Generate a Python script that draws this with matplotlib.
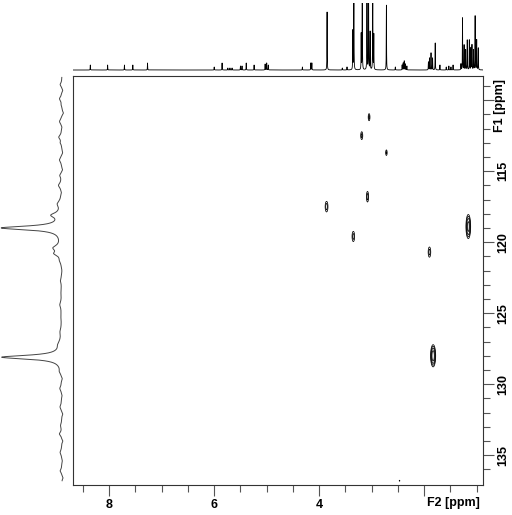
import numpy as np
import matplotlib.pyplot as plt
import matplotlib.transforms as mtransforms

plt.rcParams['font.family'] = ['Liberation Sans', 'DejaVu Sans']

# F2 axis (1H) and F1 axis (13C) window, ppm
f2_range = (8.69, 0.88)
f1_range = (108.3, 137.1)

# 1D 1H spectrum on top: peak position (ppm) and height (arb., 67 = top of panel)
h_ppm = [8.36, 8.03, 7.71, 7.55, 7.27, 6.00, 5.85, 5.74, 5.70, 5.66, 5.50, 5.47,
         5.39, 5.24, 5.03, 5.00, 4.97, 4.32, 4.16, 4.14, 3.85, 3.56, 3.47,
         3.36, 3.34, 3.20, 3.18, 3.09, 3.06, 3.03, 2.98, 2.96, 2.72, 2.55,
         2.42, 2.40, 2.38, 2.36, 2.33, 1.92, 1.90, 1.87, 1.84, 1.79, 1.70,
         1.58, 1.53, 1.49, 1.45, 1.30, 1.27, 1.24, 1.21, 1.18, 1.14, 1.11,
         1.09, 1.06, 1.03, 1.00, 0.97]
h_int = [5, 5, 5, 5, 7, 3, 7, 2, 2, 2, 4, 4,
         7, 5, 6, 7, 5, 3, 7, 7, 58, 2, 3,
         39, 100, 36, 100, 100, 100, 38, 100, 35, 65, 3,
         5, 7, 9, 6, 4, 8, 12, 17, 12, 27, 5,
         3, 4, 3, 5, 6, 52, 25, 20, 30, 30, 22,
         25, 20, 54, 30, 22]

# 1D 13C projection on the left: position (ppm), relative height, half-width
c_ppm = [108.9, 109.3, 109.9, 110.3, 110.9, 111.5, 111.9, 112.6, 113.0, 113.7,
         114.2, 114.9, 115.3, 116.0, 116.5, 117.3, 118.1, 119.0, 120.4, 120.8,
         121.3, 122.0, 122.7, 123.5, 124.4, 125.2, 126.3, 127.2, 128.1, 129.1,
         129.6, 130.3, 130.8, 131.6, 132.1, 132.9, 133.5, 134.0, 134.8, 135.4,
         136.1, 136.6]
c_int = [0.03, -0.02, 0.04, 0.01, -0.03, 0.04, -0.01, 0.05, 0.02, -0.02,
         0.04, -0.02, 0.03, 0.05, -0.01, 0.06, 0.15, 1.00, 0.12, 0.10,
         0.02, -0.01, 0.02, 0.01, 0.03, 0.01, 0.02, 0.04, 1.00, 0.02,
         -0.02, 0.03, -0.01, 0.03, -0.02, 0.02, 0.04, -0.02, 0.03, -0.01,
         0.03, -0.02]
c_wid = [0.15, 0.12, 0.18, 0.1, 0.15, 0.2, 0.1, 0.18, 0.12, 0.15,
         0.2, 0.12, 0.15, 0.2, 0.1, 0.25, 0.2, 0.16, 0.22, 0.18,
         0.2, 0.25, 0.2, 0.3, 0.25, 0.3, 0.25, 0.3, 0.16, 0.15,
         0.12, 0.18, 0.1, 0.2, 0.12, 0.18, 0.15, 0.1, 0.2, 0.12,
         0.15, 0.1]

# 2D cross peaks: F2, F1, sigma F2, sigma F1, amplitude
xp_f2 = [3.05, 3.19, 2.72, 3.08, 3.86, 1.16, 3.35, 1.90, 1.83, 2.47]
xp_f1 = [111.2, 112.5, 113.7, 116.8, 117.5, 118.9, 119.6, 120.7, 128.0, 136.8]
xp_s2 = [0.012, 0.014, 0.011, 0.014, 0.018, 0.02, 0.017, 0.017, 0.021, 0.008]
xp_s1 = [0.18, 0.2, 0.15, 0.25, 0.25, 0.38, 0.25, 0.25, 0.34, 0.05]
xp_amp = [2.6, 2.6, 2.3, 3.0, 3.0, 12.0, 2.8, 2.8, 14.0, 1.3]


def lorentz(x, pos, hw):
    return 1.0 / (1.0 + ((x - pos) / hw) ** 2)


fig = plt.figure(figsize=(5.12, 5.15), dpi=100)
W, H = 512.0, 515.0

ax = fig.add_axes([73 / W, 30 / H, 410 / W, 409 / H])
ax_top = fig.add_axes([73 / W, (H - 72) / H, 410 / W, 69 / H])
ax_left = fig.add_axes([0, 30 / H, 70 / W, 409 / H])

# --- 2D contour map
g2 = np.linspace(f2_range[1], f2_range[0], 2400)
g1 = np.linspace(f1_range[0], f1_range[1], 900)
X, Y = np.meshgrid(g2, g1)
Z = np.zeros_like(X)
for p2, p1, s2, s1, a in zip(xp_f2, xp_f1, xp_s2, xp_s1, xp_amp):
    Z += a * np.exp(-0.5 * ((X - p2) / s2) ** 2 - 0.5 * ((Y - p1) / s1) ** 2)
ax.contour(X, Y, Z, levels=[1, 2, 4, 8], colors='black', linewidths=0.55)

ax.set_xlim(*f2_range)
ax.set_ylim(f1_range[1], f1_range[0])
ax.set_xticks([8, 6, 4, 2])
ax.set_xticklabels(['8', '6', '4', ''])
ax.set_xticks(np.arange(1.0, 8.6, 0.5), minor=True)
ax.set_yticks([110, 115, 120, 125, 130, 135])
ax.set_yticklabels(['', '115', '120', '125', '130', '135'])
ax.set_yticks(np.arange(109, 137, 1), minor=True)
ax.yaxis.tick_right()
ax.tick_params(which='major', length=8, width=0.8, color='#555555', direction='out',
               labelsize=9, pad=2)
ax.tick_params(which='minor', length=5, width=0.8, color='#555555', direction='out')
ax.tick_params(axis='y', which='both', left=False, right=True)
for lbl in ax.get_xticklabels() + ax.get_yticklabels():
    lbl.set_fontweight('bold')
for lbl in ax.get_yticklabels():
    lbl.set_rotation(90)
    lbl.set_va('center')
for s in ax.spines.values():
    s.set_color('#333333')
    s.set_linewidth(0.8)

tx = mtransforms.blended_transform_factory(ax.transData, ax.transAxes)
ax.text(1.45, -0.044, 'F2 [ppm]', transform=tx, ha='center', va='center',
        fontsize=9, fontweight='bold')
ty = mtransforms.blended_transform_factory(ax.transAxes, ax.transData)
ax.text(1.041, 110.35, 'F1 [ppm]', transform=ty, ha='center', va='center',
        rotation=90, fontsize=9, fontweight='bold')

# --- top 1H trace
x1 = np.linspace(f2_range[1], f2_range[0], 16000)
y1 = np.zeros_like(x1)
for p, h in zip(h_ppm, h_int):
    y1 += h * lorentz(x1, p, 0.0025)
ax_top.plot(x1, y1, color='black', lw=0.6)
ax_top.set_xlim(*f2_range)
ax_top.set_ylim(-2, 67)
ax_top.axis('off')

# --- left 13C projection
y2 = np.linspace(f1_range[0] + 0.1, f1_range[1] - 0.3, 3000)
x2 = np.zeros_like(y2)
for p, h, w in zip(c_ppm, c_int, c_wid):
    x2 += h * lorentz(y2, p, w)
ax_left.plot(x2, y2, color='#444444', lw=0.7)
ax_left.set_xlim(1.0333, -0.1333)
ax_left.set_ylim(f1_range[1], f1_range[0])
ax_left.axis('off')

fig.savefig('out.png', dpi=100)
